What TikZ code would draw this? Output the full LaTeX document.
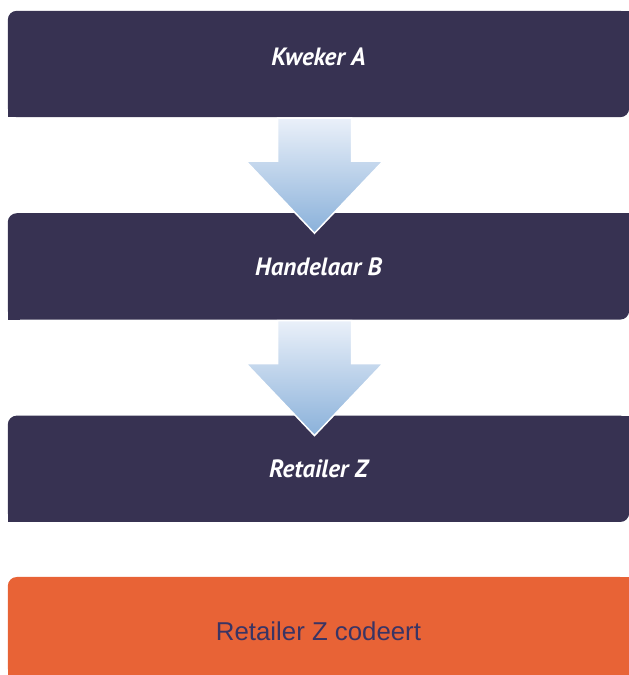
\documentclass[tikz,border=0pt]{standalone}
\usepackage{fontspec}
\usetikzlibrary{positioning,calc,backgrounds}
\newfontfamily\boxfont{PT Sans}
\newfontfamily\codefont{Liberation Sans}
\definecolor{boxnavy}{RGB}{55,50,82}
\definecolor{codeorange}{RGB}{232,99,54}
\definecolor{codetext}{RGB}{58,52,100}
\definecolor{arrowtop}{RGB}{234,240,249}
\definecolor{arrowbot}{RGB}{138,177,218}

\begin{document}
\begin{tikzpicture}[x=1pt, y=1pt, node distance=96pt,
    stage/.style = {minimum width=621pt, minimum height=106pt, inner sep=0pt,
        text=white, font=\boxfont\bfseries\itshape\fontsize{25}{30}\selectfont},
    result/.style = {minimum width=621pt, minimum height=100pt, inner sep=0pt,
        text=codetext, font=\codefont\fontsize{25.8}{30}\selectfont}]
    \useasboundingbox (0,0) rectangle (629,675);
    \node[stage, text depth=14pt] (kweker) at (318.5,611) {Kweker A};
    \node[stage] (handel) [below=of kweker] {Handelaar B};
    \node[stage] (retail) [below=of handel] {Retailer Z};
    \node[result, text height=27pt] (code) [below=55pt of retail] {Retailer Z codeert};
    % box fills, sharp at bottom left and top right
    \begin{scope}[on background layer]
        \foreach \n in {kweker,handel,retail} {
            \fill[boxnavy, rounded corners=9pt] (\n.south west) rectangle (\n.north east);
            \fill[boxnavy] (\n.south west) rectangle +(12,12);
            \fill[boxnavy] (\n.north east) rectangle +(-12,-12);
        }
        \fill[codeorange, rounded corners=9pt] (code.south west) rectangle (code.north east);
        \fill[codeorange] (code.south west) rectangle +(12,12);
        \fill[codeorange] (code.north east) rectangle +(-12,-12);
        \fill[codeorange] (code.south east) rectangle +(-12,12);
    \end{scope}
    % block arrows
    \foreach \a/\b in {kweker/handel, handel/retail}
        \shade[top color=arrowtop, bottom color=arrowbot, draw=white, line width=1.5pt]
            ($(\a.south)+(-41,-1)$) -- ($(\a.south)+(33,-1)$) -- ($(\b.north)+(33,52)$)
            -- ($(\b.north)+(64.5,52)$) -- ($(\b.north)+(-4,-20)$)
            -- ($(\b.north)+(-72.5,52)$) -- ($(\b.north)+(-41,52)$) -- cycle;
\end{tikzpicture}
\end{document}
